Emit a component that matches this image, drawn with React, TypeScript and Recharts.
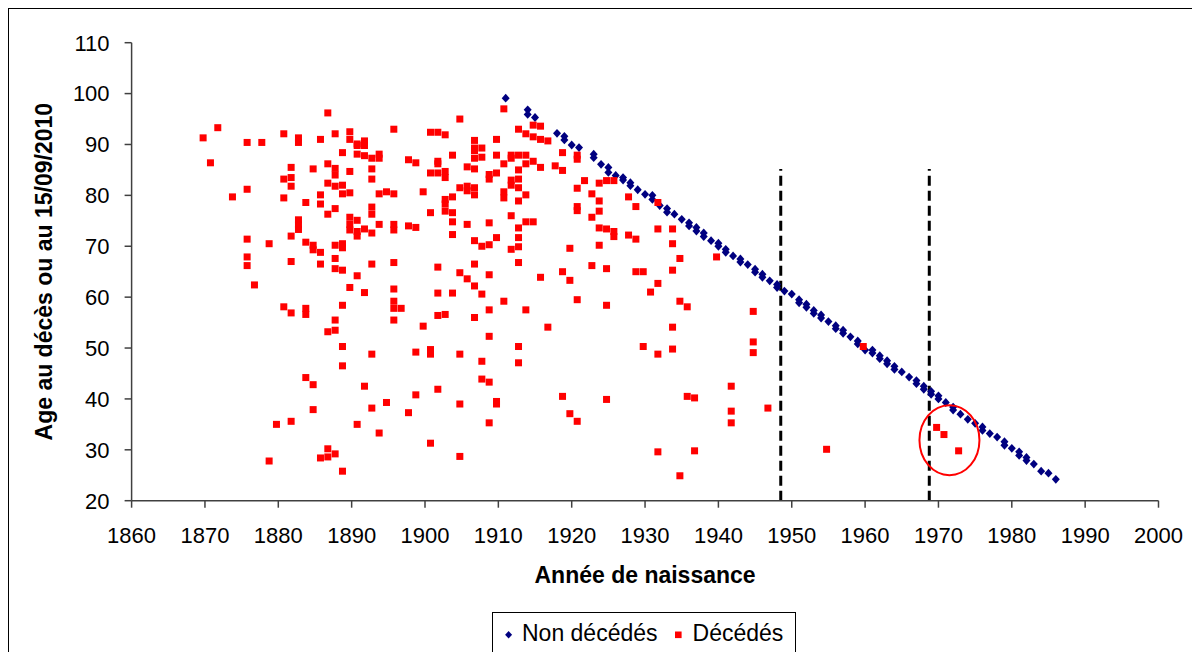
import React from 'react';
import { ScatterChart, Scatter, XAxis, YAxis, ReferenceLine, ReferenceDot, Legend, Label } from 'recharts';

const FONT = '"Liberation Sans", Arial, sans-serif';

const xTicks = [1860, 1870, 1880, 1890, 1900, 1910, 1920, 1930, 1940, 1950, 1960, 1970, 1980, 1990, 2000];
const yTicks = [20, 30, 40, 50, 60, 70, 80, 90, 100, 110];

const xTitle = 'Année de naissance';
const yTitle = 'Age au décès ou au 15/09/2010';
const seriesNames = ['Non décédés', 'Décédés'];

// Décédés: birth year position (as read) and ages at death
const decedesBirthYears = [
  1869.75, 1870.75, 1871.75, 1873.75, 1875.75, 1876.75, 1877.75, 1878.75, 1879.75, 1880.75,
  1881.75, 1882.75, 1883.75, 1884.75, 1885.75, 1886.75, 1887.75, 1888.75, 1889.75, 1890.75,
  1891.75, 1892.75, 1893.75, 1894.75, 1895.75, 1896.75, 1897.75, 1898.75, 1899.75, 1900.75,
  1901.75, 1902.75, 1903.75, 1904.75, 1905.75, 1906.75, 1907.75, 1908.75, 1909.75, 1910.75,
  1911.75, 1912.75, 1913.75, 1914.75, 1915.75, 1916.75, 1917.75, 1918.75, 1919.75, 1920.75,
  1921.75, 1922.75, 1923.75, 1924.75, 1925.75, 1927.75, 1928.75, 1929.75, 1930.75, 1931.75,
  1933.75, 1934.75, 1935.75, 1936.75, 1939.75, 1941.75, 1944.75, 1946.75, 1954.75, 1959.75,
  1969.75, 1970.75, 1972.75,
];
const decedesAges = [
  [91.3], [86.4], [93.3], [79.7], [90.4, 81.2, 71.4, 67.9, 66.2], [62.4], [90.4], [70.5, 27.8], [35.0],
  [92.1, 83.2, 79.5, 58.1],
  [85.5, 83.5, 81.8, 72.0, 67.0, 56.9, 35.6],
  [91.3, 90.4, 75.2, 74.2, 73.3],
  [78.6, 70.8, 57.8, 56.6, 44.2],
  [85.2, 70.2, 69.3, 42.8, 37.9],
  [91.0, 80.1, 78.3, 68.8, 66.5, 28.4],
  [96.2, 86.2, 82.4, 76.3, 53.2, 30.2, 28.6],
  [92.1, 85.3, 84.0, 81.8, 77.4, 70.2, 67.6, 65.6, 55.5, 53.5, 29.2],
  [88.4, 82.0, 80.3, 70.5, 69.7, 65.3, 58.4, 50.3, 46.5, 25.8],
  [92.5, 91.0, 84.7, 80.5, 75.7, 74.3, 73.2, 61.9],
  [90.1, 89.8, 88.1, 75.1, 72.9, 72.0, 64.2, 35.0],
  [90.7, 89.8, 87.8, 73.4, 60.9, 42.5],
  [87.3, 85.2, 83.2, 77.7, 76.3, 72.6, 66.5, 48.8, 38.2],
  [88.1, 87.3, 80.3, 74.3, 33.3],
  [80.7, 39.3],
  [93.0, 80.3, 74.3, 73.2, 66.8, 61.6, 59.2, 57.8, 55.5],
  [57.8],
  [87.0, 74.0, 37.3],
  [86.4, 73.7, 49.2, 40.8],
  [80.7, 54.3],
  [92.4, 84.4, 76.6, 49.7, 48.8, 31.3],
  [92.4, 86.7, 86.2, 84.4, 65.9, 60.8, 56.4, 41.9],
  [91.9, 84.7, 83.5, 79.2, 78.3, 76.9, 56.6],
  [87.9, 79.7, 76.6, 74.8, 72.3, 60.8],
  [95.0, 81.5, 64.8, 48.8, 39.0, 28.7],
  [85.6, 81.8, 80.9, 74.3, 63.6],
  [90.8, 89.3, 88.8, 87.3, 85.2, 81.5, 80.1, 71.1, 66.5, 62.2, 56.0],
  [89.3, 87.5, 70.0, 60.6, 47.4, 43.9],
  [84.1, 83.2, 74.6, 70.3, 64.4, 57.5, 52.3, 43.3, 35.3],
  [91.0, 87.9, 84.4, 71.7, 39.5, 39.0],
  [97.0, 86.2, 80.7, 79.5, 59.2],
  [87.9, 87.3, 83.0, 82.0, 76.0, 69.4],
  [93.0, 87.9, 85.0, 83.2, 81.5, 78.9, 73.6, 71.7, 69.9, 66.8, 50.3, 47.1],
  [92.1, 87.9, 86.2, 80.1, 74.8, 57.5],
  [93.8, 91.5, 86.7, 74.8],
  [93.6, 91.0, 85.5, 63.9],
  [90.7, 54.1],
  [85.8],
  [88.4, 84.9, 65.0, 40.5],
  [69.6, 63.3, 37.1],
  [87.9, 87.1, 81.4, 77.8, 77.0, 59.5, 35.6],
  [82.9],
  [80.3, 75.7, 66.2],
  [82.4, 78.9, 76.9, 73.6, 70.2],
  [82.9, 73.4, 65.6, 58.4, 39.9],
  [82.9, 72.9, 71.9],
  [79.7, 72.2],
  [77.8, 71.4, 65.0],
  [65.0, 50.3],
  [61.0],
  [78.6, 73.4, 62.7, 48.8, 29.6],
  [73.4, 70.5, 65.3, 54.1, 49.8],
  [67.6, 59.2, 24.9],
  [58.1, 40.5],
  [40.2, 29.8],
  [67.9],
  [42.5, 37.6, 35.3],
  [57.2, 51.2, 49.1],
  [38.2],
  [30.1],
  [50.3],
  [34.4],
  [33.0],
  [29.8],
];

// Non décédés: birth year and age on 15/09/2010
const nonDecedesBirthYears = [
  1911, 1914, 1915, 1918, 1919, 1920, 1921, 1923, 1924, 1925, 1926, 1927, 1928, 1929, 1930,
  1931, 1932, 1933, 1934, 1935, 1936, 1937, 1938, 1939, 1940, 1941, 1942, 1943, 1944, 1945,
  1946, 1947, 1948, 1949, 1950, 1951, 1952, 1953, 1954, 1955, 1956, 1957, 1958, 1959, 1960,
  1961, 1962, 1963, 1964, 1965, 1966, 1967, 1968, 1969, 1970, 1971, 1972, 1973, 1974, 1975,
  1976, 1977, 1978, 1979, 1980, 1981, 1982, 1983, 1984, 1985, 1986,
];
const nonDecedesAges = [
  [99.1], [96.8, 95.9], [95.3], [92.2], [91.6, 90.9], [89.9], [89.4], [88.1, 87.4], [86.1], [85.5, 84.5],
  [83.9], [83.5, 83.0], [82.5, 81.9], [81.1], [80.2],
  [80.0, 79.2], [78.0], [77.4, 76.7], [76.3], [75.3], [74.6, 74.0], [73.7, 73.0], [72.6, 71.9], [71.1], [70.6, 70.0],
  [69.4, 68.8], [68.1], [67.5, 66.9], [66.4], [65.5, 64.9],
  [64.5, 63.9], [63.2], [62.5, 61.9], [61.2], [60.6], [59.5, 58.9], [58.6, 58.0], [57.4, 56.8], [56.5, 55.9], [55.2],
  [54.4, 53.8], [53.5, 52.9], [52.2], [51.4, 50.8], [49.6],
  [49.6, 49.0], [48.5, 47.9], [47.5, 46.9], [46.4, 45.8], [45.3], [44.3], [43.6, 43.0], [42.5, 41.9], [41.5, 40.9], [40.6, 40.0],
  [39.3], [38.4, 37.8], [37.0], [36.0], [35.2],
  [34.5, 33.8], [33.2], [32.5], [31.6, 30.9], [30.3], [29.6, 28.9], [28.5, 27.9], [27.2], [25.8], [25.4], [24.2],
];

const dashedLineYears = [1948.5, 1968.75];
const dashedLineFrom = 20;
const dashedLineTo = 85.2;
const circledYear = 1971.5;
const circledAge = 31.9;

const toPoints = (years: number[], ages: number[][]) =>
  years.flatMap((yr, i) => ages[i].map((a) => ({ x: yr, y: a })));

const decedesData = toPoints(decedesBirthYears, decedesAges);
const nonDecedesData = toPoints(nonDecedesBirthYears, nonDecedesAges);

const RedSquare = (props: any) => {
  const { cx, cy } = props;
  if (cx == null || cy == null) return <g />;
  return <rect x={cx - 3.5} y={cy - 3.5} width={7} height={7} fill="#FF0000" />;
};

const BlueDiamond = (props: any) => {
  const { cx, cy } = props;
  if (cx == null || cy == null) return <g />;
  const w = 4;
  const h = 4.4;
  return (
    <polygon
      points={`${cx},${cy - h} ${cx + w},${cy} ${cx},${cy + h} ${cx - w},${cy}`}
      fill="#000080"
    />
  );
};

const Ellipse = (props: any) => {
  const { cx, cy } = props;
  if (cx == null || cy == null) return <g />;
  return <ellipse cx={cx} cy={cy} rx={30} ry={35} fill="none" stroke="#FF0000" strokeWidth={2} />;
};

const LegendBox = () => (
  <svg width={304} height={52} style={{ display: 'block', overflow: 'visible' }}>
    <rect x={0.5} y={0.5} width={303} height={50} fill="#fff" stroke="#000" strokeWidth={1} />
    <polygon points="16.6,19 20.1,22.7 16.6,26.4 13.1,22.7" fill="#000080" />
    <text x={30} y={29.4} fontFamily={FONT} fontSize={23} fill="#000">{seriesNames[0]}</text>
    <rect x={183} y={19.5} width={6.6} height={6.6} fill="#FF0000" />
    <text x={200.6} y={29.4} fontFamily={FONT} fontSize={23} fill="#000">{seriesNames[1]}</text>
  </svg>
);

export default function App() {
  return (
    <div style={{ position: 'relative', width: 1192, height: 660 }}>
      <style>{'html,body{overflow:hidden}'}</style>
      <ScatterChart
        width={1192}
        height={660}
        margin={{ top: 34.7, right: 41.5, left: 0, bottom: 77.3 }}
        style={{ fontFamily: FONT }}
      >
        <XAxis
          type="number"
          dataKey="x"
          domain={[1860, 2000]}
          ticks={xTicks}
          interval={0}
          allowDataOverflow
          height={90}
          tickSize={7}
          tickMargin={20}
          axisLine={{ stroke: '#404040', strokeWidth: 1.5 }}
          tickLine={{ stroke: '#404040', strokeWidth: 1.5 }}
          tick={{ fill: '#000', fontSize: 22, fontFamily: FONT }}
        >
          <Label
            content={(p: any) => {
              const vb = p.viewBox || { x: 0, y: 0, width: 0 };
              return (
                <text
                  x={vb.x + vb.width / 2}
                  y={vb.y + 74.3}
                  textAnchor="middle"
                  dominantBaseline="central"
                  fontWeight="bold"
                  fontSize={23}
                  fontFamily={FONT}
                  fill="#000"
                >
                  {xTitle}
                </text>
              );
            }}
          />
        </XAxis>
        <YAxis
          type="number"
          dataKey="y"
          domain={[20, 110]}
          ticks={yTicks}
          interval={0}
          allowDataOverflow
          width={123.6}
          tickSize={7}
          tickMargin={15}
          axisLine={{ stroke: '#404040', strokeWidth: 1.5 }}
          tickLine={{ stroke: '#404040', strokeWidth: 1.5 }}
          tick={{ fill: '#000', fontSize: 22, fontFamily: FONT }}
        >
          <Label
            content={(p: any) => {
              const vb = p.viewBox || { x: 0, y: 0, height: 0 };
              const cx = vb.x + 36;
              const cy = vb.y + vb.height / 2;
              return (
                <text
                  x={cx}
                  y={cy}
                  transform={`rotate(-90, ${cx}, ${cy})`}
                  textAnchor="middle"
                  dominantBaseline="central"
                  fontWeight="bold"
                  fontSize={23}
                  fontFamily={FONT}
                  fill="#000"
                >
                  {yTitle}
                </text>
              );
            }}
          />
        </YAxis>
        <Scatter
          name={seriesNames[0]}
          data={nonDecedesData}
          fill="#000080"
          shape={BlueDiamond}
          isAnimationActive={false}
        />
        <Scatter
          name={seriesNames[1]}
          data={decedesData}
          fill="#FF0000"
          shape={RedSquare}
          isAnimationActive={false}
        />
        {dashedLineYears.map((yr) => (
          <ReferenceLine
            key={yr}
            segment={[{ x: yr, y: dashedLineFrom }, { x: yr, y: dashedLineTo }]}
            stroke="#000"
            strokeWidth={3}
            strokeDasharray="10 5"
          />
        ))}
        <ReferenceDot x={circledYear} y={circledAge} r={1} shape={Ellipse} />
        <Legend
          layout="horizontal"
          verticalAlign="middle"
          align="center"
          content={() => <LegendBox />}
          wrapperStyle={{ position: 'absolute', left: 483.7, top: 604.3, width: 304, height: 52 }}
        />
      </ScatterChart>
      <div
        style={{
          position: 'absolute',
          left: 0,
          top: 0,
          width: 1220,
          height: 700,
          borderLeft: '1.5px solid #000',
          borderTop: '1.5px solid #000',
          pointerEvents: 'none',
          boxSizing: 'border-box',
        }}
      />
    </div>
  );
}
